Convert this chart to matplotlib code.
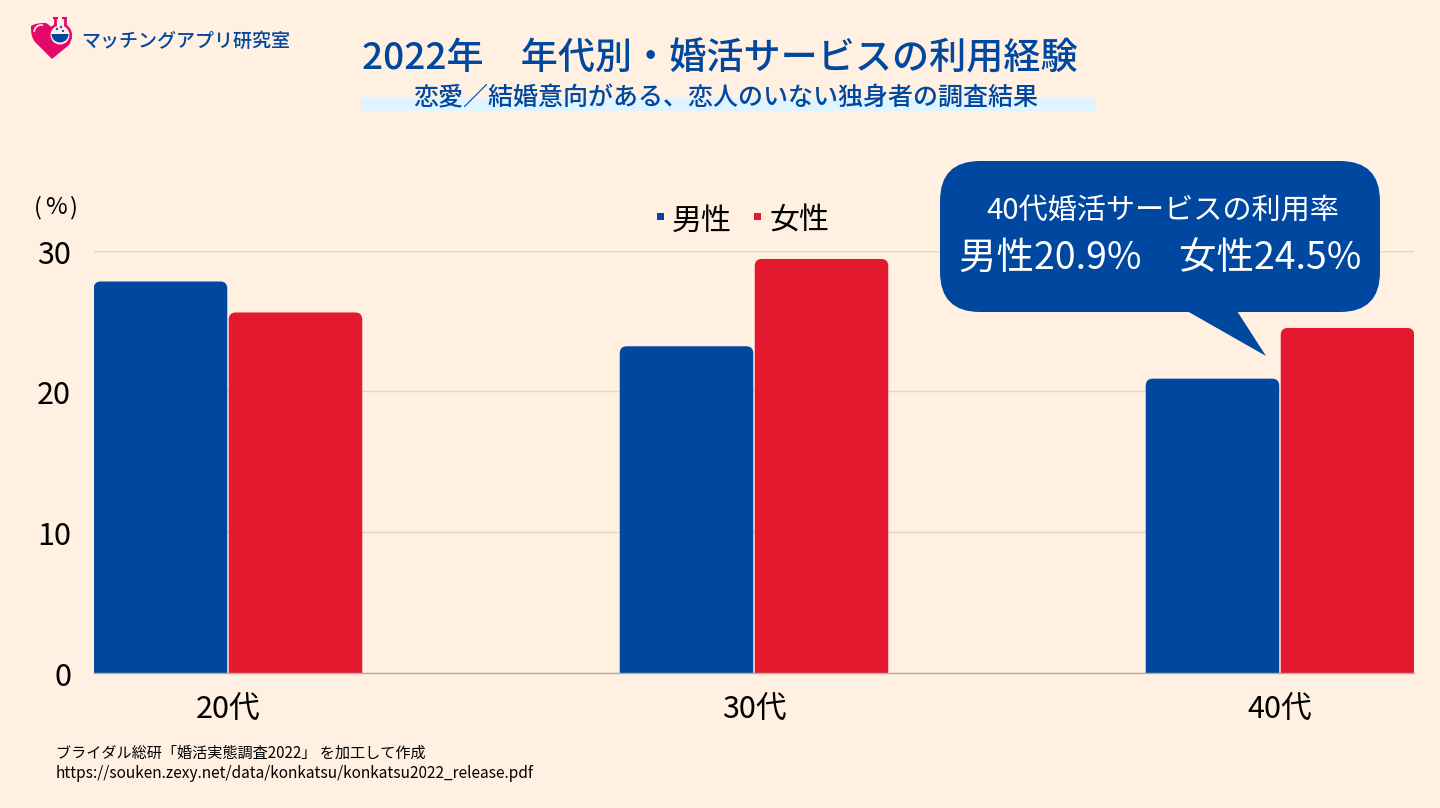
import matplotlib
matplotlib.use("Agg")
import matplotlib.pyplot as plt
from matplotlib.patches import FancyBboxPatch, Rectangle, Polygon, Circle, PathPatch, Wedge, Arc
from matplotlib.path import Path
from matplotlib.transforms import offset_copy

plt.rcParams['font.family'] = ['Noto Sans CJK JP', 'DejaVu Sans']

categories = ["20代", "30代", "40代"]
men = [27.8, 23.2, 20.9]
women = [25.6, 29.4, 24.5]
yticks = [0, 10, 20, 30]

BLUE = "#00489f"
RED = "#e2192f"
BG = "#fff0e2"
GRID = "#e4d6c7"
PINK = "#e4086a"
W, H = 1440, 808

fig = plt.figure(figsize=(14.4, 8.08), dpi=100, facecolor=BG)

# overlay in pixel coords for title, logo, callout
bg = fig.add_axes([0, 0, 1, 1], zorder=3)
bg.set_xlim(0, W)
bg.set_ylim(H, 0)
bg.axis("off")
bg.patch.set_alpha(0)

ax = fig.add_axes([94 / W, 1 - 673 / H, 1320 / W, 422.5 / H], zorder=1)
ax.set_facecolor(BG)
ax.set_xlim(-0.2548, 2.2548)
ax.set_ylim(0, 30)
for s in ["top", "right", "left"]:
    ax.spines[s].set_visible(False)
ax.spines["bottom"].set_color("#b9ada2")
ax.spines["bottom"].set_linewidth(1)
ax.set_yticks(yticks)
ax.tick_params(axis="y", length=0, labelsize=22, pad=16.5)
ax.tick_params(axis="x", length=0, labelsize=22, pad=16)
ax.set_xticks(range(len(categories)))
ax.set_xticklabels(categories)
ax.grid(axis="y", color=GRID, linewidth=1)
ax.set_axisbelow(True)
for lab in ax.get_yticklabels():
    lab.set_transform(offset_copy(lab.get_transform(), fig=fig, y=-1, units="dots"))

# bars with rounded top corners, the bottom corners fall below the axis
bw = 133.5 / 526
gap = 0.75 / 526
rx = 7 / 526
ry = 7 / 14.08
for i in range(len(categories)):
    for x0, v, c in [(i - bw - gap, men[i], BLUE), (i + gap, women[i], RED)]:
        ax.add_patch(FancyBboxPatch((x0, -ry), bw, v + ry,
                                    boxstyle=f"round,pad=0,rounding_size={rx}",
                                    mutation_aspect=ry / rx, fc=c, ec="none", zorder=2))

# title
bg.add_patch(Rectangle((361, 98), 734, 13, fc="#e0f4ff", ec="none"))
bg.text(720, 58, "2022年　年代別・婚活サービスの利用経験", color=BLUE, fontsize=26.7,
        ha="center", va="center", fontweight="medium")
bg.text(725.5, 98, "恋愛／結婚意向がある、恋人のいない独身者の調査結果", color=BLUE, fontsize=18,
        ha="center", va="center", fontweight="medium")

# logo
heart = Path([(52, 59), (35, 42), (31, 37), (31, 32), (31, 26), (36, 23), (41, 23),
              (46, 23), (50, 25), (52, 29), (60, 32), (72, 37), (71, 42), (69, 45), (52, 59)],
             [Path.MOVETO, Path.LINETO, Path.CURVE4, Path.CURVE4, Path.CURVE4, Path.CURVE4, Path.CURVE4,
              Path.CURVE4, Path.CURVE4, Path.CURVE4, Path.LINETO, Path.LINETO, Path.CURVE3, Path.CURVE3,
              Path.LINETO])
bg.add_patch(PathPatch(heart, fc=PINK, ec="none"))
bg.add_patch(Arc((41, 33), 14, 16, theta1=190, theta2=285, ec=BG, lw=1.2))
bg.add_patch(Circle((60, 35), 12, fc=PINK, ec="none"))
bg.add_patch(Rectangle((55, 18), 10, 10, fc=BG, ec="none"))
bg.plot([55, 55], [18, 26], color=PINK, lw=2, solid_capstyle="butt")
bg.plot([65, 65], [18, 26], color=PINK, lw=2, solid_capstyle="butt")
bg.plot([53, 58], [18, 18], color=PINK, lw=1.5, solid_capstyle="butt")
bg.plot([62, 67], [18, 18], color=PINK, lw=1.5, solid_capstyle="butt")
bg.add_patch(Circle((60, 35), 9.5, fc=BG, ec="none"))
bg.add_patch(Wedge((60, 34), 8.5, 0, 180, fc=BLUE, ec="none"))
bg.add_patch(Circle((57, 29), 1.1, fc=BLUE, ec="none"))
bg.add_patch(Circle((61, 27), 1.1, fc=BLUE, ec="none"))
bg.add_patch(Circle((63, 31), 1.1, fc=BLUE, ec="none"))
bg.text(81.5, 41, "マッチングアプリ研究室", color=BLUE, fontsize=13.7, ha="left", va="center", fontweight="medium")

# unit and legend
bg.text(37.5, 208, "(", color="black", fontsize=17, ha="center", va="center")
bg.text(55.5, 208, "%", color="black", fontsize=17, ha="center", va="center")
bg.text(73, 208, ")", color="black", fontsize=17, ha="center", va="center")
bg.add_patch(Rectangle((657, 213), 7, 7, fc=BLUE, ec="none"))
bg.text(672, 221, "男性", color="black", fontsize=21.6, ha="left", va="center")
bg.add_patch(Rectangle((754, 213), 7, 7, fc=RED, ec="none"))
bg.text(769.5, 221, "女性", color="black", fontsize=21.6, ha="left", va="center")

# callout
bg.add_patch(FancyBboxPatch((940, 161), 440, 151, boxstyle="round,pad=0,rounding_size=40", fc=BLUE, ec="none"))
bg.add_patch(Polygon([(1187, 311), (1237, 311), (1266, 356)], closed=True, fc=BLUE, ec="none"))
bg.text(1163, 211, "40代婚活サービスの利用率", color="white", fontsize=21, ha="center", va="center")
bg.text(1160, 259, "男性20.9%　女性24.5%", color="white", fontsize=27, ha="center", va="center")

# source
bg.text(56, 753, "ブライダル総研「婚活実態調査2022」 を加工して作成", color="black", fontsize=10.9, ha="left", va="center")
bg.text(56, 774, "https://souken.zexy.net/data/konkatsu/konkatsu2022_release.pdf", color="black",
        fontsize=11.13, ha="left", va="center")

fig.savefig("out.png", dpi=100, facecolor=BG)
